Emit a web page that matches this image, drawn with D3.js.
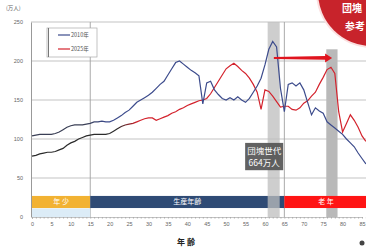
<!DOCTYPE html>
<html>
<head>
<meta charset="utf-8">
<script src="https://cdn.jsdelivr.net/npm/d3@7"></script>
<style>
  body { margin: 0; background: #fff; }
  svg { display: block; font-family: "Noto Sans CJK JP", "DejaVu Sans", sans-serif; }
</style>
</head>
<body>
<svg id="chart" width="366" height="247"></svg>
<script>
// ages 0..86, population (万人)
const ages = d3.range(0, 87);
const pop2010 = [104,105,106,106,106,106,107,109,112,115,117,118,118,118,119,120,122,122,123,122,
  122,124,127,130,134,137,142,147,150,153,156,160,165,170,174,182,190,198,200,196,
  192,188,185,181,145,172,174,163,157,152,150,153,150,154,150,147,152,160,168,178,
  195,215,225,218,165,135,170,172,168,172,163,147,131,140,136,133,122,118,114,110,
  106,100,95,90,82,75,68];
const pop2025 = [78,79,81,82,83,83,84,86,88,92,95,97,100,102,104,105,106,106,106,106,
  107,110,113,116,118,119,120,122,124,126,127,127,124,126,128,130,133,135,138,140,
  143,145,147,149,150,152,158,166,174,182,190,194,197,193,188,184,178,170,160,138,
  163,161,155,148,141,142,142,138,137,140,146,149,155,160,170,179,189,192,184,135,
  109,120,131,124,115,104,97];
const seriesNames = ["2010年", "2025年"];
const yTicks = [0, 50, 100, 150, 200, 250];
const bands = [
  { label: "年 少", from: 0, to: 15, color: "#f2b232" },
  { label: "生産年齢", from: 15, to: 65, color: "#2f4b75" },
  { label: "老 年", from: 65, to: 92, color: "#ff1414" }
];
const boomCols = [[60.7, 63.8, 250], [75.8, 78.7, 215]];

const svg = d3.select("#chart");
const x = d3.scaleLinear().domain([0, 85]).range([32, 362]);
const y = d3.scaleLinear().domain([0, 250]).range([217, 22]);

// grid
svg.append("g").selectAll("line").data(yTicks.filter(d => d > 0)).join("line")
  .attr("x1", 31).attr("x2", 366)
  .attr("y1", d => y(d)).attr("y2", d => y(d))
  .attr("stroke", "#b4b4b4").attr("stroke-width", 0.8);
svg.append("g").selectAll("line").data([15, 65]).join("line")
  .attr("x1", d => x(d)).attr("x2", d => x(d))
  .attr("y1", y(250)).attr("y2", y(0))
  .attr("stroke", "#a0a0a0").attr("stroke-width", 0.9);

// second boomer column (under bands)
svg.append("rect")
  .attr("x", x(boomCols[1][0])).attr("width", x(boomCols[1][1]) - x(boomCols[1][0]))
  .attr("y", y(boomCols[1][2])).attr("height", y(0) - y(boomCols[1][2]))
  .attr("fill", "#b9b9b9");

// age bands
svg.append("rect").attr("x", x(0)).attr("width", x(15) - x(0))
  .attr("y", y(11)).attr("height", y(0) - y(11)).attr("fill", "#dcecf7");
svg.append("g").selectAll("rect").data(bands).join("rect")
  .attr("x", d => x(d.from)).attr("width", d => x(d.to) - x(d.from))
  .attr("y", y(27)).attr("height", y(11.5) - y(27))
  .attr("fill", d => d.color);
svg.append("g").selectAll("text").data(bands).join("text")
  .attr("x", d => d.to > 85 ? 326 : (x(d.from) + x(d.to)) / 2)
  .attr("y", y(19.25) + 2.5)
  .attr("text-anchor", "middle").attr("font-size", 7).attr("fill", "#fff")
  .text(d => d.label);

// first boomer column (over bands)
svg.append("rect")
  .attr("x", x(boomCols[0][0])).attr("width", x(boomCols[0][1]) - x(boomCols[0][0]))
  .attr("y", y(boomCols[0][2])).attr("height", y(0) - y(boomCols[0][2]))
  .attr("fill", "#bdbdbd").attr("opacity", 0.75);

// axes
const yAxis = svg.append("g").attr("transform", "translate(31,0)")
  .call(d3.axisLeft(y).tickValues(yTicks).tickSize(0).tickPadding(8));
yAxis.select(".domain").attr("stroke", "#999");
yAxis.selectAll("text").attr("font-size", 5.5).attr("fill", "#666");

const xAxis = svg.append("g").attr("transform", `translate(0,${y(0)})`)
  .call(d3.axisBottom(x).tickValues(d3.range(0, 90, 1)).tickSize(1.5)
    .tickFormat(d => d % 5 === 0 ? d : ""));
xAxis.select(".domain").attr("stroke", "#888").attr("stroke-dasharray", "1,1");
xAxis.selectAll(".tick line").attr("stroke", "#aaa");
xAxis.selectAll("text").attr("font-size", 5.5).attr("fill", "#666").attr("dy", "0.9em");

svg.append("text").attr("x", 6).attr("y", 10).attr("font-size", 5.5).attr("fill", "#666").text("(万人)");
svg.append("text").attr("x", 186).attr("y", 245).attr("text-anchor", "middle")
  .attr("font-size", 8).attr("font-weight", "bold").attr("fill", "#222").text("年 齢");

// line gradients (dark at young ages)
const defs = svg.append("defs");
function grad(id, darkTo, color, dark) {
  const g = defs.append("linearGradient").attr("id", id).attr("gradientUnits", "userSpaceOnUse")
    .attr("x1", x(0)).attr("x2", x(86)).attr("y1", 0).attr("y2", 0);
  const t = darkTo / 86;
  g.append("stop").attr("offset", 0).attr("stop-color", dark);
  g.append("stop").attr("offset", t).attr("stop-color", dark);
  g.append("stop").attr("offset", t + 0.06).attr("stop-color", color);
  g.append("stop").attr("offset", 1).attr("stop-color", color);
}
grad("g2010", 14, "#3c4b8c", "#3a3f55");
grad("g2025", 22, "#d3222c", "#2b2b2b");

const line = d3.line().x((d, i) => x(ages[i])).y(d => y(d));
svg.append("path").datum(pop2025).attr("d", line)
  .attr("fill", "none").attr("stroke", "url(#g2025)").attr("stroke-width", 1.2);
svg.append("path").datum(pop2010).attr("d", line)
  .attr("fill", "none").attr("stroke", "url(#g2010)").attr("stroke-width", 1.2);

// shift arrow
const ay = y(204);
svg.append("path")
  .attr("d", `M${x(62.3)},${ay - 1} L${x(75.5)},${ay - 1.8} L${x(75.5)},${ay - 4.5} L${x(77.3)},${ay} L${x(75.5)},${ay + 4.5} L${x(75.5)},${ay + 1.8} L${x(62.3)},${ay + 1} Z`)
  .attr("fill", "#e0141e");

// annotation box
svg.append("rect").attr("x", x(54.9)).attr("y", y(95))
  .attr("width", x(64.7) - x(54.9)).attr("height", y(60) - y(95))
  .attr("fill", "#555").attr("opacity", 0.92);
svg.append("text").attr("x", (x(54.9) + x(64.7)) / 2).attr("y", y(95) + 11)
  .attr("text-anchor", "middle").attr("font-size", 8.5).attr("fill", "#fff").text("団塊世代");
svg.append("text").attr("x", (x(54.9) + x(64.7)) / 2).attr("y", y(95) + 23)
  .attr("text-anchor", "middle").attr("font-size", 8.5).attr("fill", "#fff").text("664万人");

// legend
const lg = svg.append("g");
lg.append("rect").attr("x", 47).attr("y", 28).attr("width", 50).attr("height", 29)
  .attr("fill", "#fff").attr("stroke", "#aaa").attr("stroke-width", 0.7);
lg.append("line").attr("x1", 48.5).attr("x2", 48.5).attr("y1", 28).attr("y2", 57)
  .attr("stroke", "#777").attr("stroke-width", 1);
const lcol = ["#3c4b8c", "#d3222c"];
seriesNames.forEach((s, i) => {
  const yy = 35 + i * 14;
  lg.append("line").attr("x1", 58).attr("x2", 70).attr("y1", yy).attr("y2", yy)
    .attr("stroke", lcol[i]).attr("stroke-width", 1.2);
  lg.append("text").attr("x", 71).attr("y", yy + 2).attr("font-size", 5.5).attr("fill", "#555").text(s);
});

// corner badge
svg.append("circle").attr("cx", 372).attr("cy", -8).attr("r", 56)
  .attr("fill", "#fbe0e0");
svg.append("circle").attr("cx", 372).attr("cy", -8).attr("r", 54)
  .attr("fill", "#c8232b");
svg.append("text").attr("x", 342).attr("y", 12).attr("font-size", 10).attr("font-weight", "bold")
  .attr("fill", "#fff").text("団塊");
svg.append("text").attr("x", 345).attr("y", 30).attr("font-size", 10).attr("font-weight", "bold")
  .attr("fill", "#fff").text("参考");
svg.append("circle").attr("cx", 362).attr("cy", 243).attr("r", 2.5).attr("fill", "#444");
</script>
</body>
</html>
